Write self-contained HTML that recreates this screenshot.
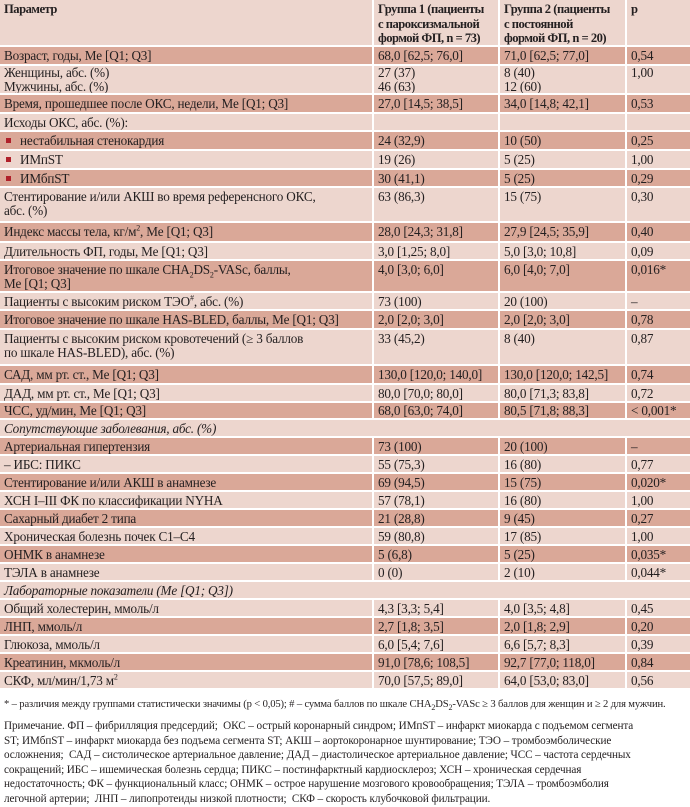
<!DOCTYPE html>
<html><head><meta charset="utf-8"><style>
*{margin:0;padding:0;box-sizing:border-box}
body{width:690px;height:800px;background:#fff;font-family:"Liberation Serif","DejaVu Serif",serif;color:#231f20;position:relative;overflow:hidden}
.r{display:flex;border-bottom:2px solid #fff;font-size:13.2px;line-height:14px;letter-spacing:-0.2px}
.L{background:#edd6ce}.D{background:#daa898}
.c{padding:2px 0 0 4px;white-space:nowrap;overflow:hidden}
.c1{width:372px}.c2{width:126px;border-left:2px solid #fff}.c3{width:127px;border-left:2px solid #fff}.c4{flex:1;border-left:2px solid #fff}
.h{font-weight:bold;font-size:12.6px;letter-spacing:-0.5px;line-height:14.5px}
.i{font-style:italic}
.b{display:inline-block;width:5px;height:5px;background:#b0202a;margin:0 9px 2px 2px;vertical-align:middle}
sup,sub{font-size:8px;line-height:0}
.f{position:absolute;left:4px;font-size:11.2px;line-height:14.6px;white-space:nowrap;letter-spacing:-0.1px}
</style></head><body>
<div class="r L h" style="height:47px"><div class="c c1">Параметр</div><div class="c c2">Группа 1 (пациенты<br>с пароксизмальной<br>формой ФП, n = 73)</div><div class="c c3">Группа 2 (пациенты<br>с постоянной<br>формой ФП, n = 20)</div><div class="c c4">p</div></div>
<div class="r D" style="height:19px"><div class="c c1">Возраст, годы, Me [Q1; Q3]</div><div class="c c2">68,0 [62,5; 76,0]</div><div class="c c3">71,0 [62,5; 77,0]</div><div class="c c4">0,54</div></div>
<div class="r L" style="height:29px"><div class="c c1" style="padding-top:0">Женщины, абс. (%)<br>Мужчины, абс. (%)</div><div class="c c2" style="padding-top:0">27 (37)<br>46 (63)</div><div class="c c3" style="padding-top:0">8 (40)<br>12 (60)</div><div class="c c4" style="padding-top:0">1,00</div></div>
<div class="r D" style="height:19px"><div class="c c1">Время, прошедшее после ОКС, недели, Me [Q1; Q3]</div><div class="c c2">27,0 [14,5; 38,5]</div><div class="c c3">34,0 [14,8; 42,1]</div><div class="c c4">0,53</div></div>
<div class="r L" style="height:18px"><div class="c c1">Исходы ОКС, абс. (%):</div><div class="c c2"></div><div class="c c3"></div><div class="c c4"></div></div>
<div class="r D" style="height:19px"><div class="c c1"><span class="b"></span>нестабильная стенокардия</div><div class="c c2">24 (32,9)</div><div class="c c3">10 (50)</div><div class="c c4">0,25</div></div>
<div class="r L" style="height:19px"><div class="c c1"><span class="b"></span>ИМпST</div><div class="c c2">19 (26)</div><div class="c c3">5 (25)</div><div class="c c4">1,00</div></div>
<div class="r D" style="height:18px"><div class="c c1"><span class="b"></span>ИМбпST</div><div class="c c2">30 (41,1)</div><div class="c c3">5 (25)</div><div class="c c4">0,29</div></div>
<div class="r L" style="height:35px"><div class="c c1">Стентирование и/или АКШ во время референсного ОКС,<br>абс. (%)</div><div class="c c2">63 (86,3)</div><div class="c c3">15 (75)</div><div class="c c4">0,30</div></div>
<div class="r D" style="height:20px"><div class="c c1">Индекс массы тела, кг/м<sup>2</sup>, Me [Q1; Q3]</div><div class="c c2">28,0 [24,3; 31,8]</div><div class="c c3">27,9 [24,5; 35,9]</div><div class="c c4">0,40</div></div>
<div class="r L" style="height:18px"><div class="c c1">Длительность ФП, годы, Me [Q1; Q3]</div><div class="c c2">3,0 [1,25; 8,0]</div><div class="c c3">5,0 [3,0; 10,8]</div><div class="c c4">0,09</div></div>
<div class="r D" style="height:32px"><div class="c c1">Итоговое значение по шкале CHA<sub>2</sub>DS<sub>2</sub>-VASc, баллы,<br>Me [Q1; Q3]</div><div class="c c2">4,0 [3,0; 6,0]</div><div class="c c3">6,0 [4,0; 7,0]</div><div class="c c4">0,016*</div></div>
<div class="r L" style="height:18px"><div class="c c1">Пациенты с высоким риском ТЭО<sup>#</sup>, абс. (%)</div><div class="c c2">73 (100)</div><div class="c c3">20 (100)</div><div class="c c4">–</div></div>
<div class="r D" style="height:19px"><div class="c c1">Итоговое значение по шкале HAS-BLED, баллы, Me [Q1; Q3]</div><div class="c c2">2,0 [2,0; 3,0]</div><div class="c c3">2,0 [2,0; 3,0]</div><div class="c c4">0,78</div></div>
<div class="r L" style="height:36px"><div class="c c1">Пациенты с высоким риском кровотечений (≥ 3 баллов<br>по шкале HAS-BLED), абс. (%)</div><div class="c c2">33 (45,2)</div><div class="c c3">8 (40)</div><div class="c c4">0,87</div></div>
<div class="r D" style="height:19px"><div class="c c1">САД, мм рт. ст., Me [Q1; Q3]</div><div class="c c2">130,0 [120,0; 140,0]</div><div class="c c3">130,0 [120,0; 142,5]</div><div class="c c4">0,74</div></div>
<div class="r L" style="height:18px"><div class="c c1">ДАД, мм рт. ст., Me [Q1; Q3]</div><div class="c c2">80,0 [70,0; 80,0]</div><div class="c c3">80,0 [71,3; 83,8]</div><div class="c c4">0,72</div></div>
<div class="r D" style="height:17px"><div class="c c1" style="padding-top:1px">ЧСС, уд/мин, Me [Q1; Q3]</div><div class="c c2" style="padding-top:1px">68,0 [63,0; 74,0]</div><div class="c c3" style="padding-top:1px">80,5 [71,8; 88,3]</div><div class="c c4" style="padding-top:1px">&lt; 0,001*</div></div>
<div class="r L" style="height:18px"><div class="c i">Сопутствующие заболевания, абс. (%)</div></div>
<div class="r D" style="height:18px"><div class="c c1">Артериальная гипертензия</div><div class="c c2">73 (100)</div><div class="c c3">20 (100)</div><div class="c c4">–</div></div>
<div class="r L" style="height:18px"><div class="c c1">– ИБС: ПИКС</div><div class="c c2">55 (75,3)</div><div class="c c3">16 (80)</div><div class="c c4">0,77</div></div>
<div class="r D" style="height:18px"><div class="c c1">Стентирование и/или АКШ в анамнезе</div><div class="c c2">69 (94,5)</div><div class="c c3">15 (75)</div><div class="c c4">0,020*</div></div>
<div class="r L" style="height:18px"><div class="c c1">ХСН I–III ФК по классификации NYHA</div><div class="c c2">57 (78,1)</div><div class="c c3">16 (80)</div><div class="c c4">1,00</div></div>
<div class="r D" style="height:18px"><div class="c c1">Сахарный диабет 2 типа</div><div class="c c2">21 (28,8)</div><div class="c c3">9 (45)</div><div class="c c4">0,27</div></div>
<div class="r L" style="height:18px"><div class="c c1">Хроническая болезнь почек С1–С4</div><div class="c c2">59 (80,8)</div><div class="c c3">17 (85)</div><div class="c c4">1,00</div></div>
<div class="r D" style="height:18px"><div class="c c1">ОНМК в анамнезе</div><div class="c c2">5 (6,8)</div><div class="c c3">5 (25)</div><div class="c c4">0,035*</div></div>
<div class="r L" style="height:18px"><div class="c c1">ТЭЛА в анамнезе</div><div class="c c2">0 (0)</div><div class="c c3">2 (10)</div><div class="c c4">0,044*</div></div>
<div class="r L" style="height:18px"><div class="c i">Лабораторные показатели (Me [Q1; Q3])</div></div>
<div class="r L" style="height:18px"><div class="c c1">Общий холестерин, ммоль/л</div><div class="c c2">4,3 [3,3; 5,4]</div><div class="c c3">4,0 [3,5; 4,8]</div><div class="c c4">0,45</div></div>
<div class="r D" style="height:18px"><div class="c c1">ЛНП, ммоль/л</div><div class="c c2">2,7 [1,8; 3,5]</div><div class="c c3">2,0 [1,8; 2,9]</div><div class="c c4">0,20</div></div>
<div class="r L" style="height:18px"><div class="c c1">Глюкоза, ммоль/л</div><div class="c c2">6,0 [5,4; 7,6]</div><div class="c c3">6,6 [5,7; 8,3]</div><div class="c c4">0,39</div></div>
<div class="r D" style="height:18px"><div class="c c1">Креатинин, мкмоль/л</div><div class="c c2">91,0 [78,6; 108,5]</div><div class="c c3">92,7 [77,0; 118,0]</div><div class="c c4">0,84</div></div>
<div class="r L" style="height:18px"><div class="c c1">СКФ, мл/мин/1,73 м<sup>2</sup></div><div class="c c2">70,0 [57,5; 89,0]</div><div class="c c3">64,0 [53,0; 83,0]</div><div class="c c4">0,56</div></div>
<div class="f" style="top:698px;font-size:10.6px;letter-spacing:-0.15px">* – различия между группами статистически значимы (p &lt; 0,05); # – сумма баллов по шкале CHA<sub>2</sub>DS<sub>2</sub>-VASc ≥ 3 баллов для женщин и ≥ 2 для мужчин.</div>
<div class="f" style="top:719px">Примечание. ФП – фибрилляция предсердий;&nbsp; ОКС – острый коронарный синдром; ИМпST – инфаркт миокарда с подъемом сегмента<br>ST; ИМбпST – инфаркт миокарда без подъема сегмента ST; АКШ – аортокоронарное шунтирование; ТЭО – тромбоэмболические<br>осложнения;&nbsp; САД – систолическое артериальное давление; ДАД – диастолическое артериальное давление; ЧСС – частота сердечных<br>сокращений; ИБС – ишемическая болезнь сердца; ПИКС – постинфарктный кардиосклероз; ХСН – хроническая сердечная<br>недостаточность; ФК – функциональный класс; ОНМК – острое нарушение мозгового кровообращения; ТЭЛА – тромбоэмболия<br>легочной артерии;&nbsp; ЛНП – липопротеиды низкой плотности;&nbsp; СКФ – скорость клубочковой фильтрации.</div>
</body></html>
